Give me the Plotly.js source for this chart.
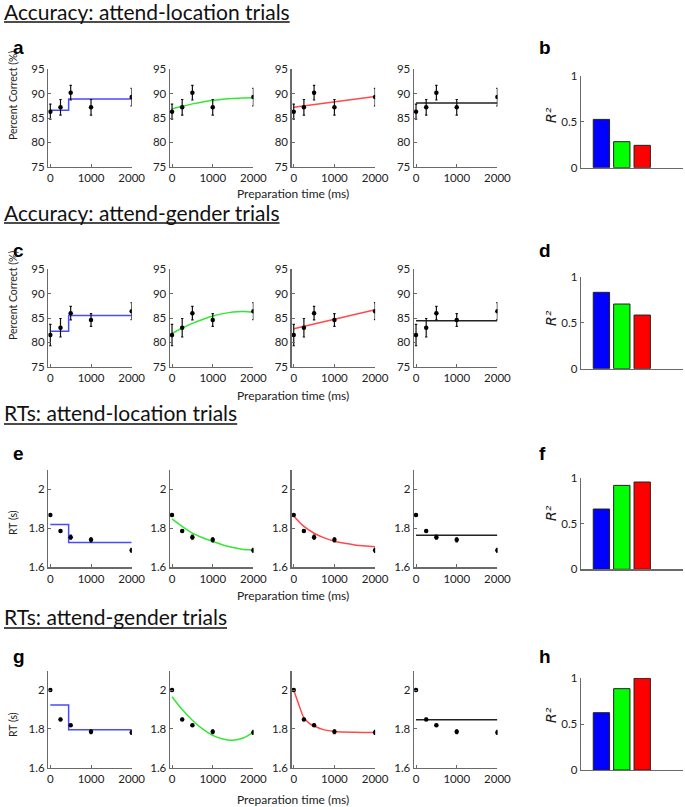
<!DOCTYPE html>
<html>
<head>
<meta charset="utf-8">
<script src="https://cdn.plot.ly/plotly-3.0.1.min.js"></script>
<style>html,body{margin:0;padding:0;background:#fff}#chart{width:685px;height:807px}</style>
</head>
<body>
<div id="chart"></div>
<script>
// ---------------- DATA ----------------
const prepTimes = [0, 250, 500, 1000, 2000];
const xTicks = [0, 1000, 2000];
const accTicks = [75, 80, 85, 90, 95];
const accTickLabels = ['75', '80', '85', '90', '95'];
const rtTicks = [1.6, 1.8, 2.0];
const rtTickLabels = ['1.6', '1.8', '2'];
const r2Ticks = [0, 0.5, 1];
const r2TickLabels = ['0', '0.5', '1'];

const sectionTitles = ['Accuracy: attend-location trials', 'Accuracy: attend-gender trials',
                       'RTs: attend-location trials', 'RTs: attend-gender trials'];
const panelLetters = [['a', 'b'], ['c', 'd'], ['e', 'f'], ['g', 'h']];

// observed means and error bars
const accLocMean = [86.3, 87.2, 90.2, 87.2, 89.3];
const accLocErr  = [1.55, 1.6, 1.5, 1.6, 1.8];
const accGenMean = [81.5, 83.0, 86.0, 84.6, 86.4];
const accGenErr  = [2.2, 1.9, 1.4, 1.3, 1.75];
const rtLocMean  = [1.869, 1.786, 1.755, 1.741, 1.687];
const rtLocErr   = [0.005, 0.006, 0.01, 0.01, 0.01];
const rtGenMean  = [2.0, 1.849, 1.819, 1.785, 1.782];
const rtGenErr   = [0.004, 0.005, 0.005, 0.01, 0.01];

// model fits
const stepX = [0, 450, 2000];
const accLocStep = [86.6, 88.9, 88.9];
const accGenStep = [82.3, 85.5, 85.5];
const rtLocStep  = [1.82, 1.728, 1.728];
const rtGenStep  = [1.923, 1.795, 1.795];

const curveX = [0, 250, 500, 750, 1000, 1250, 1500, 1750, 2000];
const accLocCurve = [86.85, 87.4, 87.9, 88.3, 88.6, 88.85, 89.0, 89.1, 89.15];
const accGenCurve = [81.85, 82.95, 83.9, 84.7, 85.4, 85.9, 86.25, 86.35, 86.2];
const rtLocCurve  = [1.849, 1.81, 1.776, 1.752, 1.733, 1.715, 1.702, 1.692, 1.689];
const rtGenCurve  = [1.966, 1.90, 1.845, 1.80, 1.767, 1.748, 1.742, 1.753, 1.783];

const linX = [0, 2000];
const accLocLinear = [87.2, 89.4];
const accGenLinear = [82.8, 86.7];
const expX = [0, 250, 500, 750, 1000, 1250, 1500, 1750, 2000];
const rtLocExp = [1.864, 1.81, 1.775, 1.751, 1.734, 1.723, 1.715, 1.71, 1.706];
const expX2 = [0, 125, 250, 375, 500, 750, 1000, 1500, 2000];
const rtGenExp = [2.0, 1.925, 1.858, 1.83, 1.815, 1.795, 1.787, 1.783, 1.782];

const flatX = [0, 2000];
const accLocFlat = [88.1, 88.1];
const accGenFlat = [84.45, 84.45];
const rtLocFlat  = [1.765, 1.765];
const rtGenFlat  = [1.847, 1.847];

const modelIdx = [1, 2, 3];
const r2Loc   = [0.525, 0.283, 0.243];
const r2Gen   = [0.83, 0.703, 0.583];
const r2RtLoc = [0.658, 0.916, 0.953];
const r2RtGen = [0.623, 0.884, 0.997];

// ---------------- LAYOUT ----------------
const W = 685, H = 807;
const fx = v => v / W;
const fy = v => 1 - v / H;
const FONT = 'Lato, "Open Sans", sans-serif';
const panelX = [48.3, 170, 291.7, 414];
const panelW = 83.4;
const rowTop = [69.3, 269.3, 470, 670.7];
const rowBot = [166.7, 366.7, 567.3, 767.7];
const barTop = [75.7, 276.7, 477.7, 678];
const barBot = [167.7, 368.7, 569.3, 770];
const barX0 = 581, barX1 = 683;
const titleY = [11, 212, 413, 616];
const underlineY = [22, 223, 424, 628];
const letterY = [48, 250.5, 453, 656];
const xTitleY = [193, 395, 595, 799];
const yTitleY = [96, 296, 523, 725];
const r2TitleY = [115, 318, 513, 715];

const lineColors = ['#4a4aff', '#33e833', '#ff4a4a', '#222222'];
const barColors = ['#0000ff', '#00ff00', '#ff0000'];

const rows = [
  {mean: accLocMean, err: accLocErr, fits: [[stepX, accLocStep, 'hv'], [curveX, accLocCurve, 'spline'], [linX, accLocLinear, 'linear'], [flatX, accLocFlat, 'linear']], ticks: accTicks, tl: accTickLabels, range: [75, 95], r2: r2Loc, ytitle: 'Percent Correct (%)'},
  {mean: accGenMean, err: accGenErr, fits: [[stepX, accGenStep, 'hv'], [curveX, accGenCurve, 'spline'], [linX, accGenLinear, 'linear'], [flatX, accGenFlat, 'linear']], ticks: accTicks, tl: accTickLabels, range: [75, 95], r2: r2Gen, ytitle: 'Percent Correct (%)'},
  {mean: rtLocMean, err: rtLocErr, fits: [[stepX, rtLocStep, 'hv'], [curveX, rtLocCurve, 'spline'], [expX, rtLocExp, 'spline'], [flatX, rtLocFlat, 'linear']], ticks: rtTicks, tl: rtTickLabels, range: [1.6, 2.1], r2: r2RtLoc, ytitle: 'RT (s)'},
  {mean: rtGenMean, err: rtGenErr, fits: [[stepX, rtGenStep, 'hv'], [curveX, rtGenCurve, 'spline'], [expX2, rtGenExp, 'spline'], [flatX, rtGenFlat, 'linear']], ticks: rtTicks, tl: rtTickLabels, range: [1.6, 2.1], r2: r2RtGen, ytitle: 'RT (s)'}
];

const traces = [];
const layout = {
  width: W, height: H, margin: {l: 0, r: 0, t: 0, b: 0},
  paper_bgcolor: '#fff', plot_bgcolor: 'rgba(0,0,0,0)',
  showlegend: false, font: {family: FONT, size: 11, color: '#222'},
  annotations: [], shapes: []
};

const axisBase = {
  showline: true, linecolor: '#6a6a6a', linewidth: 1.4, showgrid: false, zeroline: false,
  ticks: 'inside', ticklen: 3, tickwidth: 1, tickcolor: '#6a6a6a',
  tickfont: {family: FONT, size: 11.5, color: '#222'}, fixedrange: true
};

let n = 0;
function axName(i) { return i === 1 ? '' : String(i); }

rows.forEach((row, r) => {
  for (let p = 0; p < 4; p++) {
    n++;
    const s = axName(n);
    layout['xaxis' + s] = Object.assign({}, axisBase, {
      domain: [fx(panelX[p]), fx(panelX[p] + panelW)], anchor: 'y' + s,
      range: [-50, 2000], tickmode: 'array', tickvals: xTicks, ticktext: xTicks.map(String)
    });
    layout['yaxis' + s] = Object.assign({}, axisBase, {
      domain: [fy(rowBot[r]), fy(rowTop[r])], anchor: 'x' + s,
      range: row.range, tickmode: 'array', tickvals: row.ticks, ticktext: row.tl
    });
    const f = row.fits[p];
    traces.push({x: f[0], y: f[1], xaxis: 'x' + s, yaxis: 'y' + s, mode: 'lines',
      line: {color: lineColors[p], width: 1.5, shape: f[2], smoothing: 1}, hoverinfo: 'skip'});
    traces.push({x: prepTimes, y: row.mean, xaxis: 'x' + s, yaxis: 'y' + s, mode: 'markers',
      marker: {color: '#000', size: 4.5},
      error_y: {type: 'data', array: row.err, visible: true, color: '#111', thickness: 1.2, width: 1.2}, hoverinfo: 'skip'});
  }
  // bar panel
  n++;
  const s = axName(n);
  layout['xaxis' + s] = Object.assign({}, axisBase, {
    domain: [fx(barX0), fx(barX1)], anchor: 'y' + s, range: [0, 5], ticks: '', showticklabels: false
  });
  layout['yaxis' + s] = Object.assign({}, axisBase, {
    domain: [fy(barBot[r]), fy(barTop[r])], anchor: 'x' + s, range: [0, 1],
    tickmode: 'array', tickvals: r2Ticks, ticktext: r2TickLabels
  });
  traces.push({type: 'bar', x: modelIdx, y: row.r2, xaxis: 'x' + s, yaxis: 'y' + s, width: 0.8,
    marker: {color: barColors, line: {color: '#222', width: 1}}, hoverinfo: 'skip'});

  // annotations
  const A = layout.annotations;
  A.push({xref: 'paper', yref: 'paper', x: fx(2), y: fy(titleY[r]), xanchor: 'left', yanchor: 'middle', showarrow: false,
    text: sectionTitles[r], font: {family: FONT, size: 21, color: '#111'}});
  A.push({xref: 'paper', yref: 'paper', x: fx(11), y: fy(letterY[r]), xanchor: 'left', yanchor: 'middle', showarrow: false,
    text: panelLetters[r][0], font: {family: 'Liberation Sans, Arial, sans-serif', size: 19, color: '#000', weight: 'bold'}});
  A.push({xref: 'paper', yref: 'paper', x: fx(537), y: fy(letterY[r]), xanchor: 'left', yanchor: 'middle', showarrow: false,
    text: panelLetters[r][1], font: {family: 'Liberation Sans, Arial, sans-serif', size: 19, color: '#000', weight: 'bold'}});
  A.push({xref: 'paper', yref: 'paper', x: fx(293), y: fy(xTitleY[r]), xanchor: 'center', yanchor: 'middle', showarrow: false,
    text: 'Preparation time (ms)', font: {family: FONT, size: 12, color: '#222'}});
  A.push({xref: 'paper', yref: 'paper', x: fx(13), y: fy(yTitleY[r]), xanchor: 'center', yanchor: 'middle', showarrow: false,
    textangle: -90, text: row.ytitle, font: {family: FONT, size: 10.5, color: '#222'}});
  A.push({xref: 'paper', yref: 'paper', x: fx(551), y: fy(r2TitleY[r]), xanchor: 'center', yanchor: 'middle', showarrow: false,
    textangle: -90, text: 'R²', font: {family: '"DejaVu Sans", sans-serif', size: 14, color: '#222', style: 'italic'}});
});

const gd = document.getElementById('chart');
Plotly.newPlot(gd, traces, layout, {staticPlot: true, displayModeBar: false}).then(() => {
  // underline each section title to the measured width of its text
  const texts = gd.querySelectorAll('.annotation-text');
  const shapes = [];
  const root = gd.getBoundingClientRect();
  texts.forEach(t => {
    const idx = sectionTitles.indexOf(t.textContent);
    if (idx < 0) return;
    const b = t.getBoundingClientRect();
    const x0 = b.left - root.left, x1 = b.right - root.left;
    shapes.push({type: 'line', xref: 'paper', yref: 'paper', x0: fx(x0), x1: fx(x1),
      y0: fy(underlineY[idx]), y1: fy(underlineY[idx]), line: {color: '#111', width: 1.4}});
  });
  return Plotly.relayout(gd, {shapes: shapes});
});
</script>
</body>
</html>
